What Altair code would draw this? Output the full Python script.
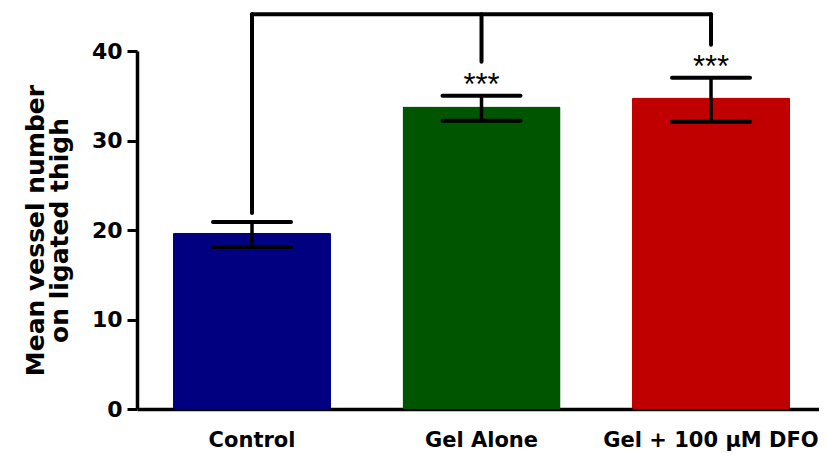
import altair as alt
import pandas as pd

categories = ["Control", "Gel Alone", "Gel + 100 μM DFO"]
means = [19.7, 33.8, 34.8]
err_low = [18.1, 32.2, 32.1]
err_high = [20.9, 35.0, 37.0]
colors = ["#000080", "#005500", "#c00000"]
stars = ["", "***", "***"]

bracket_top = 44.1
bracket_ends = [21.9, 38.8, 40.7]

df = pd.DataFrame({
    "cat": categories, "mean": means, "lo": err_low, "hi": err_high,
    "stars": stars, "end": bracket_ends, "top": [bracket_top] * 3,
})
hdf = pd.DataFrame({"x": [categories[0]], "x2": [categories[-1]], "y": [bracket_top]})

xs = alt.Scale(domain=categories, paddingInner=0.3115, paddingOuter=0.1416, align=0.554)
ys = alt.Scale(domain=[0, 40], nice=False)

X = alt.X("cat:N", scale=xs, sort=categories,
          axis=alt.Axis(title=None, labelAngle=0, ticks=False, labelPadding=20, labelLimit=0,
                        labelFontSize=21, labelFont="DejaVu Sans", labelFontWeight="bold",
                        labelColor="black", domainWidth=3.5, domainColor="black"))
Y = alt.Y("mean:Q", scale=ys,
          axis=alt.Axis(title=["Mean vessel number", "on ligated thigh"], values=[0, 10, 20, 30, 40],
                        grid=False, tickSize=10, tickWidth=3, tickColor="black",
                        domainWidth=3.5, domainColor="black", labelPadding=5,
                        labelFontSize=22, labelFont="DejaVu Sans", labelFontWeight="bold",
                        labelColor="black", titleFontSize=25, titleFont="DejaVu Sans",
                        titleFontWeight="bold", titleColor="black", titlePadding=19,
                        titleLineHeight=24))

base = alt.Chart(df)
bars = base.mark_bar(cornerRadius=1.5).encode(
    x=X, y=Y,
    color=alt.Color("cat:N", scale=alt.Scale(domain=categories, range=colors), legend=None),
)
evert = base.mark_rule(strokeWidth=3.5, color="black").encode(
    x=alt.X("cat:N", scale=xs, sort=categories), y=alt.Y("lo:Q", scale=ys), y2="hi:Q")
cap_hi = base.mark_rule(strokeWidth=4, color="black", strokeCap="round", xOffset=-39, x2Offset=39).encode(
    x=alt.X("cat:N", scale=xs, sort=categories), x2="cat:N", y=alt.Y("hi:Q", scale=ys))
cap_lo = base.mark_rule(strokeWidth=4, color="black", strokeCap="round", xOffset=-39, x2Offset=39).encode(
    x=alt.X("cat:N", scale=xs, sort=categories), x2="cat:N", y=alt.Y("lo:Q", scale=ys))
txt = base.mark_text(font="Liberation Sans", fontSize=31, baseline="alphabetic", dy=-1, color="black").encode(
    x=alt.X("cat:N", scale=xs, sort=categories), y=alt.Y("hi:Q", scale=ys), text="stars:N")
bvert = base.mark_rule(strokeWidth=4, color="black", strokeCap="round").encode(
    x=alt.X("cat:N", scale=xs, sort=categories), y=alt.Y("top:Q", scale=ys), y2="end:Q")
bhor = alt.Chart(hdf).mark_rule(strokeWidth=4, color="black", strokeCap="round").encode(
    x=alt.X("x:N", scale=xs, sort=categories), x2="x2:N", y=alt.Y("y:Q", scale=ys))

chart = alt.layer(bars, evert, cap_hi, cap_lo, txt, bvert, bhor).properties(
    width=682, height=358,
    autosize=alt.AutoSizeParams(type="none"),
    padding={"left": 129, "top": 43, "right": 0, "bottom": 46},
).configure_view(stroke=None)

chart.save("out.html", embed_options={"renderer": "svg", "actions": False})
